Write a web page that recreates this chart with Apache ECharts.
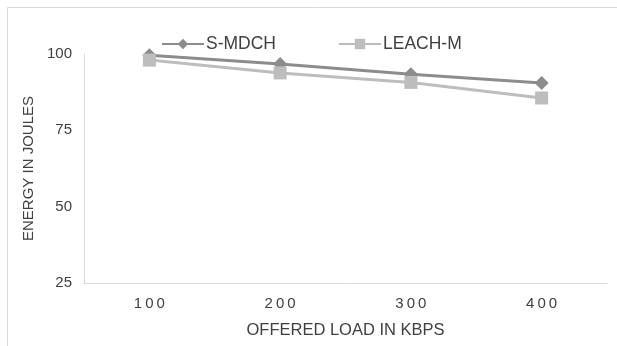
<!DOCTYPE html>
<html>
<head>
<meta charset="utf-8">
<script src="https://cdn.jsdelivr.net/npm/echarts@6/dist/echarts.min.js"></script>
<style>
  html, body { margin: 0; padding: 0; background: #fff; }
  #chart { width: 617px; height: 346px; }
</style>
</head>
<body>
<div id="chart"></div>
<script>
// Offered load categories (kbps) and energy readings (joules)
const loads = ['100', '200', '300', '400'];
const sMdch = [99.6, 96.7, 93.4, 90.5];
const leachM = [98.0, 93.8, 90.7, 85.6];
const yTicks = { min: 25, max: 100, step: 25 };

const textColor = '#404040';
const font = 'Liberation Sans, Arial, sans-serif';

// spread the digits of a category label apart
function spaced(v) {
  return String(v).split('').map(c => '{d|' + c + '}').join('');
}

const chart = echarts.init(document.getElementById('chart'), null, { renderer: 'canvas' });
chart.setOption({
  backgroundColor: '#fff',
  animation: false,
  textStyle: { fontFamily: font },
  graphic: [{
    type: 'rect',
    shape: { x: 7.5, y: 7.5, width: 640, height: 360 },
    style: { fill: 'none', stroke: '#d9d9d9', lineWidth: 1 },
    silent: true
  }],
  legend: {
    top: 30,
    left: 156,
    itemGap: 62,
    itemWidth: 42,
    itemHeight: 13,
    textStyle: { color: textColor, fontSize: 17.5, fontFamily: font, padding: [0, 0, 0, -3] },
    data: ['S-MDCH', 'LEACH-M']
  },
  grid: { left: 84, right: 10, top: 54, bottom: 63 },
  xAxis: {
    type: 'category',
    data: loads,
    boundaryGap: true,
    name: 'OFFERED LOAD IN KBPS',
    nameLocation: 'middle',
    nameGap: 39,
    nameTextStyle: { color: textColor, fontSize: 16.5, fontFamily: font },
    axisLine: { lineStyle: { color: '#d9d9d9', width: 1 } },
    axisTick: { show: false },
    axisLabel: {
      color: textColor, fontSize: 15, margin: 13, fontFamily: font,
      formatter: spaced,
      rich: { d: { fontSize: 15, color: textColor, fontFamily: font, padding: [0, 1.5, 0, 1.5] } }
    }
  },
  yAxis: {
    type: 'value',
    min: yTicks.min,
    max: yTicks.max,
    interval: yTicks.step,
    name: 'ENERGY IN JOULES',
    nameLocation: 'middle',
    nameGap: 37,
    nameTextStyle: { color: textColor, fontSize: 15, fontFamily: font },
    axisLine: { show: true, lineStyle: { color: '#d9d9d9', width: 1 } },
    axisTick: { show: false },
    splitLine: { show: false },
    axisLabel: { color: textColor, fontSize: 15, margin: 12, fontFamily: font }
  },
  series: [
    {
      name: 'S-MDCH',
      type: 'line',
      data: sMdch,
      symbol: 'diamond',
      symbolSize: 14,
      color: '#8c8c8c',
      lineStyle: { width: 3, color: '#8c8c8c' },
      itemStyle: { color: '#8c8c8c' },
      z: 2
    },
    {
      name: 'LEACH-M',
      type: 'line',
      data: leachM,
      symbol: 'rect',
      symbolSize: 13,
      color: '#bdbdbd',
      lineStyle: { width: 3, color: '#bdbdbd' },
      itemStyle: { color: '#bdbdbd' },
      z: 3
    }
  ]
});
</script>
</body>
</html>
